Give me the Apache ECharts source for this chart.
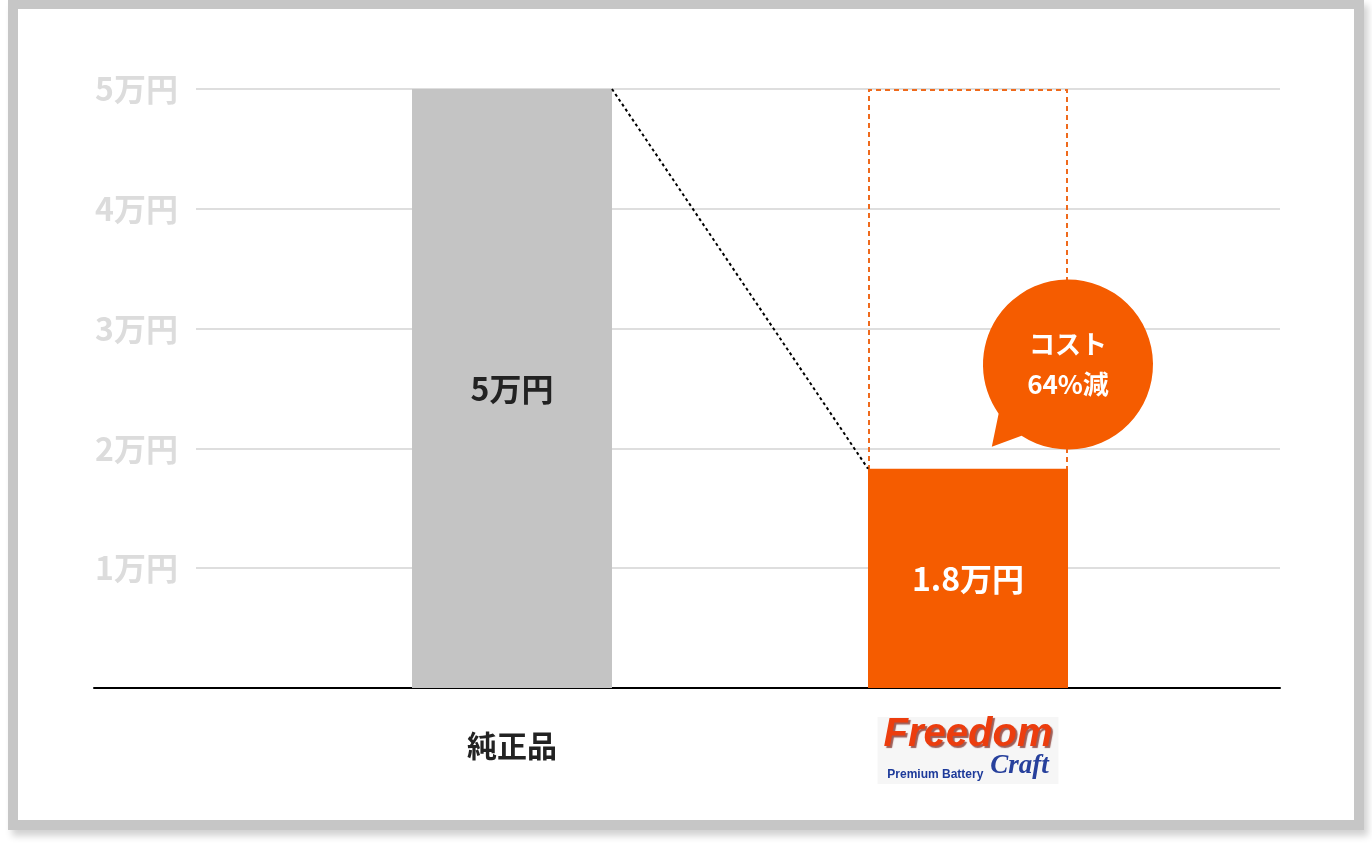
<!DOCTYPE html>
<html>
<head>
<meta charset="utf-8">
<script src="https://cdn.jsdelivr.net/npm/echarts@6/dist/echarts.min.js"></script>
<style>
  html, body { margin: 0; padding: 0; background: #fff; width: 1372px; height: 846px; overflow: hidden; }
  #frame { position: absolute; left: 8px; top: -1px; width: 1356px; height: 831px; box-sizing: border-box;
           border: 10px solid #c6c6c6; background: #fff; box-shadow: 4px 6px 7px rgba(0,0,0,0.18); }
  #chart { position: absolute; left: 0; top: 0; width: 1372px; height: 846px; }
</style>
</head>
<body>
<div id="frame"></div>
<div id="chart"></div>
<script>
// ---- data ----
const categories = ['純正品', 'Freedom Craft'];
const prices = [50000, 18300];
const priceLabels = ['5万円', '1.8万円'];
const originalPrice = ['-', 50000];
const yMax = 50000;
const yStep = 10000;
const bubbleLines = ['コスト', '64%減'];
const bubbleValue = 27000;

// ---- styles ----
const FONT = '"Noto Sans CJK JP", "Noto Sans", sans-serif';
const GRAY = '#c4c4c4';
const ORANGE = '#f55c00';
const DASH_ORANGE = '#ef6a1c';

const chart = echarts.init(document.getElementById('chart'));

const gridBox = { top: 89, bottom: 158 };
const yBase = { type: 'value', min: 0, max: yMax, interval: yStep };

const bubblePath = 'path://M22 160 L14 199 L49 186 A100 100 0 1 0 22 160 Z';

const option = {
  animation: false,
  textStyle: { fontFamily: FONT },
  grid: [
    Object.assign({ left: 196, right: 92 }, gridBox),
    Object.assign({ left: 94, right: 92 }, gridBox),
    Object.assign({ left: 284, right: 176 }, gridBox),
    Object.assign({ left: 612, right: 504 }, gridBox)
  ],
  xAxis: [
    { gridIndex: 0, type: 'category', data: categories, show: false },
    { gridIndex: 1, type: 'category', data: categories,
      axisLine: { show: true, lineStyle: { color: '#000', width: 2 } },
      axisTick: { show: false }, axisLabel: { show: false }, splitLine: { show: false } },
    { gridIndex: 2, type: 'category',
      data: [
        { value: categories[0], textStyle: { padding: [14, 0, 0, 0] } },
        { value: categories[1], textStyle: {
            backgroundColor: '#f6f6f6', padding: [2, 6, 3, 6]
        } }
      ],
      axisLine: { show: false }, axisTick: { show: false },
      axisLabel: {
        interval: 0, margin: 29, verticalAlign: 'top',
        fontFamily: FONT, fontSize: 30, fontWeight: 'bold', color: '#222', lineHeight: 30,
        formatter: function (v, i) {
          if (i === 1) return '{f|Freedom}\n{p|Premium Battery} {c|Craft}';
          return v;
        },
        rich: {
          f: { fontFamily: '"Liberation Sans", Arial, sans-serif', fontStyle: 'italic', fontWeight: 900,
               fontSize: 40, color: '#ec3d0e', lineHeight: 32,
               textShadowColor: 'rgba(110,10,0,0.65)', textShadowOffsetX: 2, textShadowOffsetY: 2, textShadowBlur: 1 },
          p: { fontFamily: '"Liberation Sans", Arial, sans-serif', fontWeight: 'bold', fontSize: 12,
               color: '#1d3a9a', lineHeight: 19, verticalAlign: 'bottom' },
          c: { fontFamily: '"Liberation Serif", "DejaVu Serif", serif', fontStyle: 'italic',
               fontSize: 27, color: '#27409c', lineHeight: 19 }
        }
      } },
    { gridIndex: 3, type: 'category', data: categories, boundaryGap: false, show: false }
  ],
  yAxis: [
    Object.assign({ gridIndex: 0,
      axisLine: { show: false }, axisTick: { show: false },
      splitLine: { show: true, lineStyle: { color: '#dedede', width: 2 } },
      axisLabel: { margin: 18, fontFamily: FONT, fontSize: 32, fontWeight: 'bold', color: '#dcdcdc',
        formatter: function (v) { return v === 0 ? '' : (v / 10000) + '万円'; } } }, yBase),
    Object.assign({ gridIndex: 1, show: false, splitLine: { show: false } }, yBase),
    Object.assign({ gridIndex: 2, show: false, splitLine: { show: false } }, yBase),
    Object.assign({ gridIndex: 3, show: false, splitLine: { show: false } }, yBase)
  ],
  series: [
    {
      name: 'original', type: 'bar', xAxisIndex: 2, yAxisIndex: 2,
      data: originalPrice, barWidth: 200, z: 2, silent: true,
      itemStyle: { color: 'rgba(0,0,0,0)', borderColor: DASH_ORANGE, borderWidth: 2, borderType: [5, 4] },
      markPoint: {
        silent: true,
        data: [{
          coord: [1, bubbleValue], symbol: bubblePath, symbolSize: [170, 170],
          symbolKeepAspect: true, symbolOffset: [100, 0],
          itemStyle: { color: ORANGE },
          label: {
            show: true, position: 'inside',
            formatter: '{a|' + bubbleLines[0] + '}\n{a|' + bubbleLines[1] + '}',
            rich: { a: { fontFamily: FONT, fontSize: 26, fontWeight: 'bold', color: '#fff', lineHeight: 40, align: 'center' } }
          }
        }]
      }
    },
    {
      name: 'price', type: 'bar', xAxisIndex: 2, yAxisIndex: 2, barWidth: 200, barGap: '-100%', z: 3,
      data: prices.map(function (v, i) {
        return {
          value: v,
          itemStyle: { color: i === 0 ? GRAY : ORANGE },
          label: { color: i === 0 ? '#222' : '#fff' }
        };
      }),
      label: {
        show: true, position: 'inside', fontFamily: FONT, fontSize: 32, fontWeight: 'bold',
        formatter: function (p) { return priceLabels[p.dataIndex]; }
      }
    },
    {
      name: 'connector', type: 'line', xAxisIndex: 3, yAxisIndex: 3, data: prices,
      symbol: 'none', silent: true, z: 4,
      lineStyle: { color: '#000', width: 2, type: [3, 3] }
    }
  ]
};
chart.setOption(option);
</script>
</body>
</html>
